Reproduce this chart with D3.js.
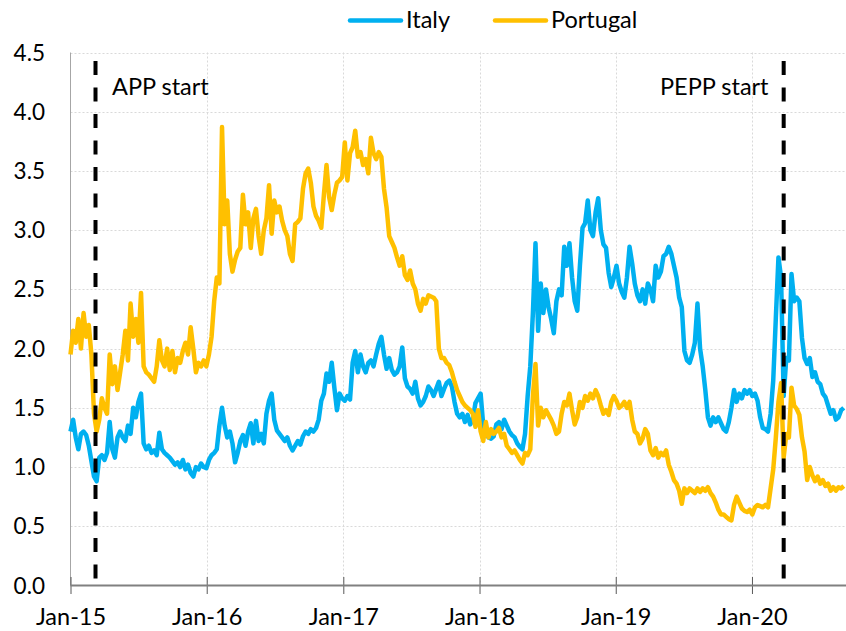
<!DOCTYPE html>
<html>
<head>
<meta charset="utf-8">
<script src="https://cdn.jsdelivr.net/npm/d3@7"></script>
<style>
  body { margin: 0; background: #fff; }
  svg { display: block; font-family: Lato, "Open Sans", sans-serif; }
</style>
</head>
<body>
<svg id="chart" width="846" height="631"></svg>
<script>
// Weekly spread readings (pp), first week starts 1 Jan 2015
var startDate = new Date(2015, 0, 1),
    endDate = new Date(2020, 8, 9);

var italy = [
  1.30,1.40,1.25,1.15,1.28,1.30,1.27,1.18,1.05,0.92,0.88,1.08,1.10,1.06,1.12,1.38,1.15,1.08,1.25,1.30,
  1.25,1.22,1.35,1.28,1.50,1.42,1.55,1.62,1.20,1.15,1.18,1.12,1.14,1.10,1.29,1.15,1.12,1.10,1.08,1.05,
  1.02,1.04,1.00,1.06,0.98,1.02,0.95,0.92,1.00,0.98,1.03,1.00,0.99,1.06,1.10,1.12,1.15,1.35,1.50,1.35,
  1.25,1.30,1.20,1.04,1.12,1.22,1.27,1.18,1.30,1.37,1.20,1.39,1.22,1.28,1.20,1.45,1.56,1.62,1.40,1.31,
  1.28,1.25,1.22,1.25,1.18,1.14,1.18,1.22,1.19,1.26,1.30,1.28,1.32,1.30,1.33,1.40,1.56,1.62,1.79,1.72,
  1.88,1.67,1.48,1.62,1.58,1.56,1.60,1.57,1.88,1.98,1.80,1.95,1.85,1.80,1.88,1.90,1.85,1.95,2.04,2.10,
  1.95,1.83,1.92,1.82,1.78,1.80,1.85,2.01,1.75,1.68,1.66,1.62,1.72,1.58,1.52,1.55,1.60,1.68,1.65,1.60,
  1.66,1.72,1.60,1.66,1.71,1.73,1.68,1.55,1.45,1.42,1.45,1.38,1.44,1.36,1.40,1.54,1.58,1.62,1.35,1.30,
  1.25,1.24,1.26,1.36,1.38,1.32,1.40,1.35,1.30,1.27,1.25,1.20,1.17,1.15,1.28,1.60,1.85,2.30,2.89,2.15,
  2.55,2.30,2.50,2.35,2.25,2.13,2.40,2.50,2.45,2.86,2.70,2.89,2.60,2.40,2.32,2.70,3.02,3.06,3.25,3.00,
  2.95,3.15,3.27,3.00,2.88,2.85,2.64,2.52,2.60,2.70,2.55,2.48,2.43,2.60,2.86,2.72,2.55,2.45,2.40,2.50,
  2.38,2.55,2.50,2.40,2.70,2.60,2.65,2.78,2.80,2.86,2.80,2.70,2.60,2.43,2.35,1.98,1.90,1.88,1.95,2.05,
  2.38,2.00,1.85,1.65,1.42,1.35,1.42,1.38,1.42,1.37,1.32,1.30,1.38,1.50,1.65,1.55,1.62,1.58,1.65,1.62,
  1.65,1.60,1.62,1.56,1.42,1.33,1.32,1.30,1.45,1.73,2.26,2.77,2.60,1.60,1.92,1.90,2.63,2.40,2.43,2.40,
  2.09,1.92,1.87,1.92,1.76,1.80,1.72,1.70,1.62,1.59,1.52,1.45,1.48,1.40,1.42,1.48,1.50
];

var portugal = [
  1.95,2.15,2.05,2.25,2.00,2.30,2.10,2.20,1.95,1.45,1.30,1.40,1.58,1.50,1.45,1.95,1.70,1.85,1.65,1.80,
  1.95,2.15,1.90,2.38,2.10,2.25,2.05,2.47,1.85,1.80,1.78,1.75,1.72,1.85,2.07,1.90,1.85,2.00,1.82,1.98,
  1.80,1.92,1.88,1.98,2.05,1.95,2.18,2.00,1.80,1.88,1.85,1.90,1.85,1.95,2.10,2.40,2.60,2.55,3.87,3.05,
  3.25,2.80,2.65,2.75,2.82,2.85,3.30,3.05,3.15,2.85,3.10,3.18,2.95,2.80,3.00,3.10,3.38,2.97,3.25,3.15,
  3.20,3.08,3.00,2.95,2.80,2.74,3.05,3.07,3.10,3.35,3.48,3.52,3.40,3.20,3.12,3.08,3.02,3.30,3.55,3.28,
  3.17,3.30,3.40,3.42,3.45,3.74,3.42,3.65,3.70,3.84,3.62,3.66,3.55,3.60,3.48,3.78,3.65,3.60,3.66,3.62,
  3.35,3.19,2.95,2.90,2.85,2.77,2.70,2.78,2.62,2.58,2.66,2.55,2.50,2.38,2.32,2.42,2.38,2.45,2.44,2.43,
  2.40,2.00,1.92,1.92,1.88,1.86,1.80,1.72,1.65,1.60,1.55,1.52,1.50,1.48,1.45,1.34,1.48,1.30,1.22,1.38,
  1.25,1.32,1.28,1.30,1.33,1.25,1.28,1.18,1.15,1.12,1.14,1.10,1.06,1.03,1.12,1.10,1.15,1.60,1.87,1.35,
  1.50,1.42,1.48,1.44,1.40,1.35,1.28,1.30,1.45,1.55,1.52,1.62,1.48,1.36,1.42,1.55,1.50,1.60,1.56,1.62,
  1.58,1.65,1.60,1.52,1.45,1.48,1.44,1.55,1.60,1.56,1.50,1.52,1.55,1.50,1.55,1.40,1.30,1.28,1.20,1.24,
  1.32,1.28,1.14,1.10,1.16,1.08,1.12,1.10,1.14,1.02,0.96,0.89,0.86,0.80,0.69,0.82,0.78,0.82,0.80,0.78,
  0.82,0.79,0.82,0.80,0.83,0.78,0.75,0.70,0.64,0.60,0.60,0.58,0.56,0.55,0.68,0.75,0.70,0.65,0.63,0.62,
  0.64,0.60,0.66,0.68,0.67,0.66,0.68,0.66,0.82,0.98,1.25,1.55,1.71,1.08,1.28,1.25,1.67,1.52,1.49,1.44,
  1.25,1.13,0.89,1.00,0.93,0.88,0.92,0.86,0.89,0.84,0.86,0.80,0.83,0.80,0.83,0.82,0.84
];

var yTicks = [0, 0.5, 1, 1.5, 2, 2.5, 3, 3.5, 4, 4.5];
var xTicks = [new Date(2015,0,1), new Date(2016,0,1), new Date(2017,0,1),
              new Date(2018,0,1), new Date(2019,0,1), new Date(2020,0,1)];

var events = [
  { name: "APP start", date: new Date(2015, 2, 9), labelX: 112 },
  { name: "PEPP start", date: new Date(2020, 2, 26), labelX: 660 }
];

var colorItaly = "#00B0F0",
    colorPortugal = "#FFC000";

var svg = d3.select("#chart");

var x = d3.scaleTime().domain([startDate, endDate]).range([70.5, 846]);
var y = d3.scaleLinear().domain([0, 4.5]).range([585.5, 52.5]);

// weekly dates for the readings
var dates = italy.map(function(d, i) { return d3.timeDay.offset(startDate, 7 * i); });

// gridlines
svg.append("g").selectAll("line")
    .data(yTicks.slice(1))
    .enter().append("line")
    .attr("x1", 70.5).attr("x2", 846)
    .attr("y1", function(d) { return Math.round(y(d)) + 0.5; })
    .attr("y2", function(d) { return Math.round(y(d)) + 0.5; })
    .attr("stroke", "#d9d9d9")
    .attr("stroke-dasharray", "2,2");

svg.append("g").selectAll("line")
    .data(xTicks.slice(1))
    .enter().append("line")
    .attr("x1", function(d) { return Math.round(x(d)) + 0.5; })
    .attr("x2", function(d) { return Math.round(x(d)) + 0.5; })
    .attr("y1", y(4.5)).attr("y2", y(0))
    .attr("stroke", "#d9d9d9")
    .attr("stroke-dasharray", "2,2");

// left axis line
svg.append("line")
    .attr("x1", 70.5).attr("x2", 70.5)
    .attr("y1", y(4.5)).attr("y2", y(0))
    .attr("stroke", "#a6a6a6");

// y labels
svg.append("g").selectAll("text")
    .data(yTicks)
    .enter().append("text")
    .attr("x", 45)
    .attr("y", function(d) { return y(d); })
    .attr("dy", "0.36em")
    .attr("text-anchor", "end")
    .attr("font-size", "22.5px")
    .attr("fill", "#000")
    .text(function(d) { return d3.format(".1f")(d); });

// series
var line = d3.line()
    .x(function(d, i) { return x(dates[i]); })
    .y(function(d) { return y(d); });

svg.append("path")
    .attr("d", line(italy))
    .attr("fill", "none")
    .attr("stroke", colorItaly)
    .attr("stroke-width", 4.5)
    .attr("stroke-linejoin", "round");

svg.append("path")
    .attr("d", line(portugal))
    .attr("fill", "none")
    .attr("stroke", colorPortugal)
    .attr("stroke-width", 4.5)
    .attr("stroke-linejoin", "round");

// x axis
var xAxis = d3.axisBottom(x)
    .tickValues(xTicks)
    .tickSize(8.5)
    .tickFormat(d3.timeFormat("%b-%y"));

var gx = svg.append("g")
    .attr("transform", "translate(0," + y(0) + ")")
    .call(xAxis);
gx.select(".domain").remove();
gx.selectAll(".tick line")
    .attr("y1", -8.5)
    .attr("stroke", "#595959");
gx.selectAll(".tick text")
    .attr("y", 39)
    .attr("dy", 0)
    .attr("font-size", "23.5px")
    .attr("font-family", "Lato, sans-serif")
    .attr("fill", "#000");
svg.append("line")
    .attr("x1", 70.5).attr("x2", 846)
    .attr("y1", y(0)).attr("y2", y(0))
    .attr("stroke", "#808080")
    .attr("stroke-width", 2);

// programme start markers
svg.append("g").selectAll("line")
    .data(events)
    .enter().append("line")
    .attr("x1", function(d) { return x(d.date); })
    .attr("x2", function(d) { return x(d.date); })
    .attr("y1", 61).attr("y2", y(0))
    .attr("stroke", "#000")
    .attr("stroke-width", 4)
    .attr("stroke-dasharray", "14,12.5");

svg.append("g").selectAll("text")
    .data(events)
    .enter().append("text")
    .attr("x", function(d) { return d.labelX; })
    .attr("y", 95)
    .attr("font-size", "23.5px")
    .attr("fill", "#000")
    .text(function(d) { return d.name; });

// legend
var legendData = [
  { txt: "Italy", color: colorItaly, x: 348 },
  { txt: "Portugal", color: colorPortugal, x: 493 }
];
var legend = svg.append("g");
legend.selectAll("line")
    .data(legendData)
    .enter().append("line")
    .attr("x1", function(d) { return d.x + 2; })
    .attr("x2", function(d) { return d.x + 53; })
    .attr("y1", 20.5).attr("y2", 20.5)
    .attr("stroke", function(d) { return d.color; })
    .attr("stroke-width", 4.5)
    .attr("stroke-linecap", "round");
legend.selectAll("text")
    .data(legendData)
    .enter().append("text")
    .attr("x", function(d) { return d.x + 58; })
    .attr("y", 28)
    .attr("font-size", "23.5px")
    .attr("fill", "#000")
    .text(function(d) { return d.txt; });
</script>
</body>
</html>
